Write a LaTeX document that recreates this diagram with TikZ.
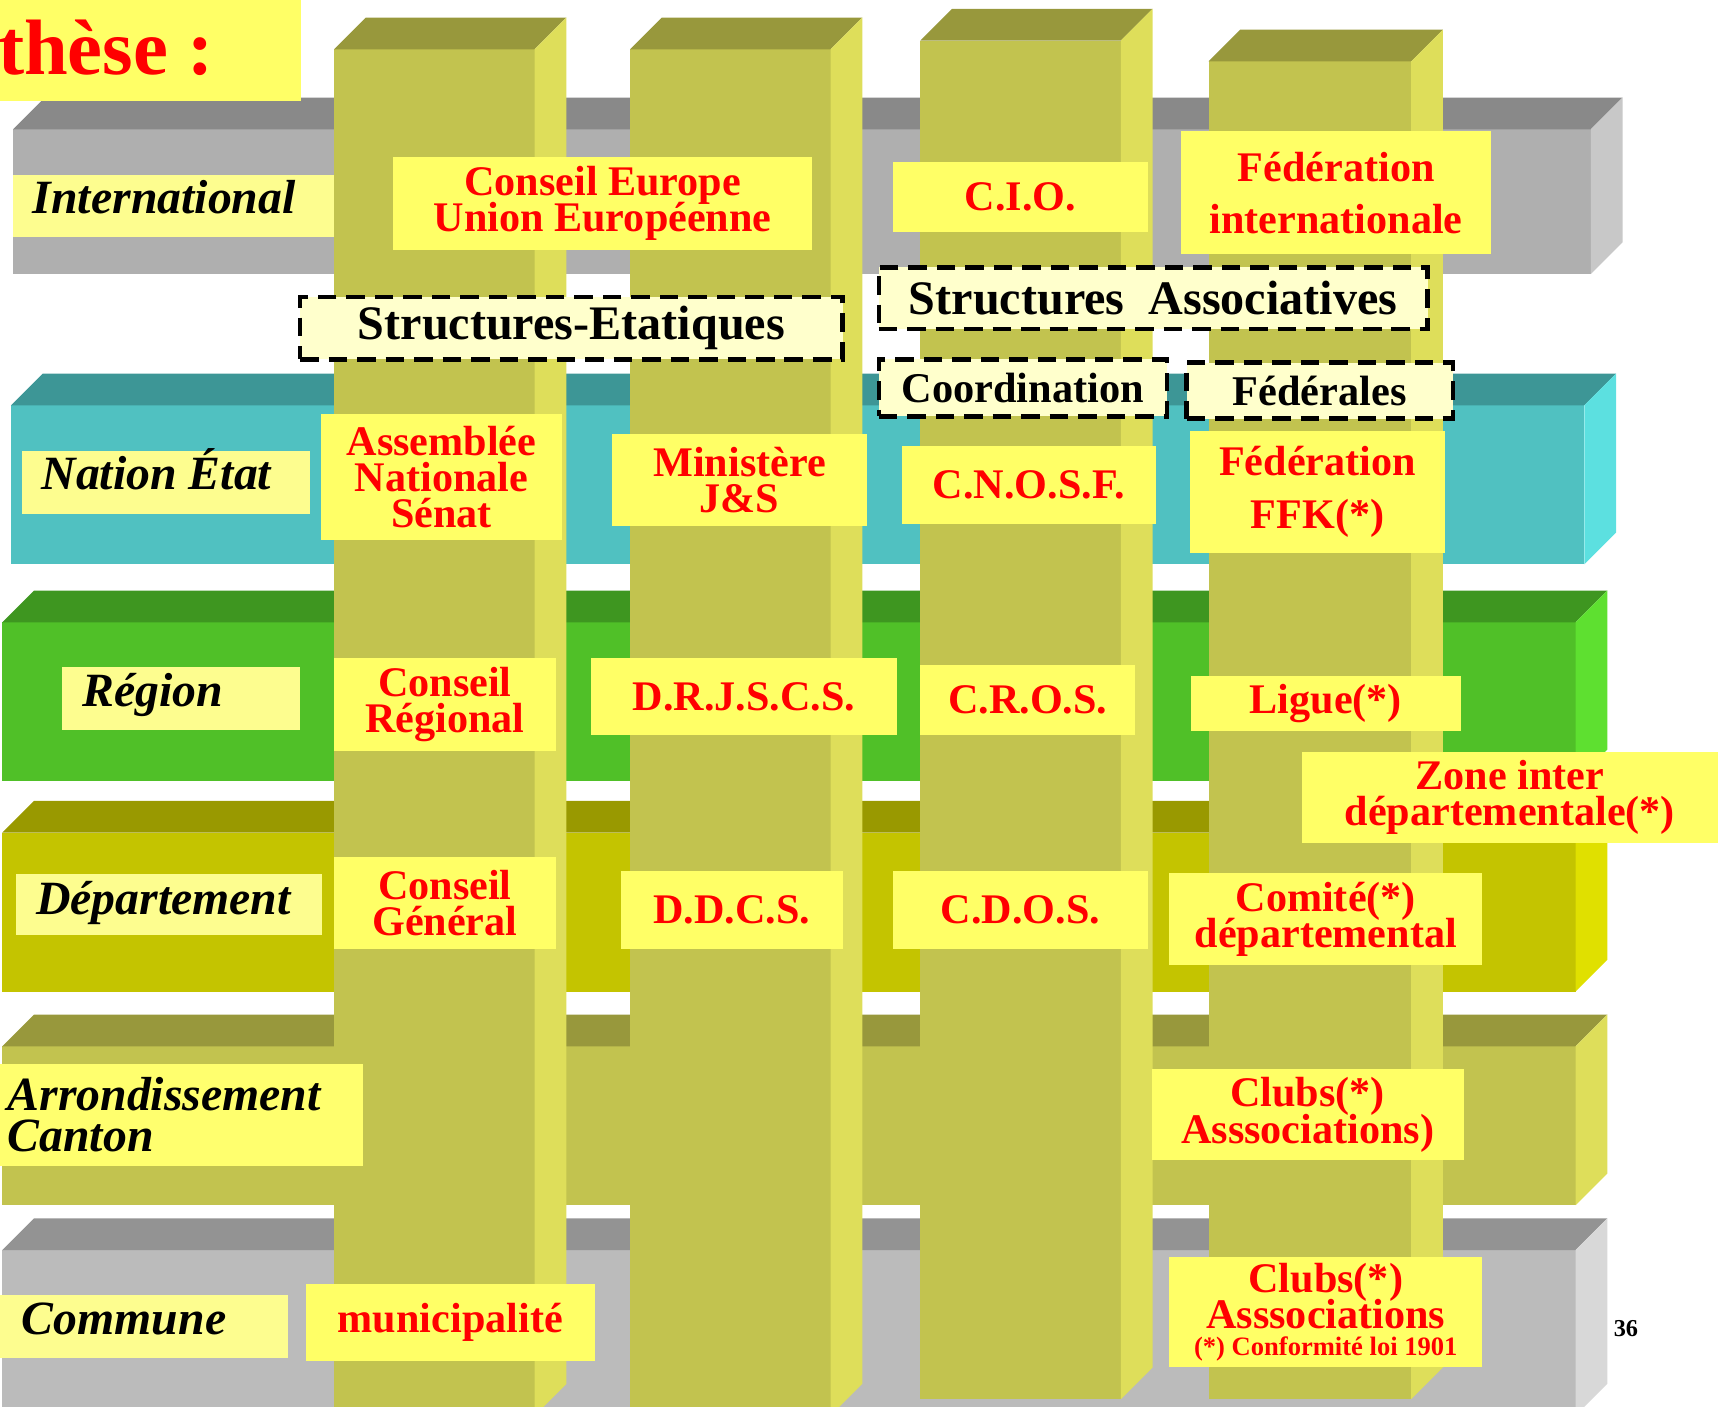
\documentclass[tikz,border=0pt]{standalone}
\usepackage{fontspec}
\setmainfont{Liberation Serif}
\definecolor{colfront}{RGB}{194,195,79}
\definecolor{coltop}{RGB}{152,152,60}
\definecolor{colside}{RGB}{222,222,90}
\definecolor{intlfront}{RGB}{175,175,175}
\definecolor{intltop}{RGB}{137,137,137}
\definecolor{intlside}{RGB}{200,200,200}
\definecolor{natfront}{RGB}{80,193,193}
\definecolor{nattop}{RGB}{61,150,150}
\definecolor{natside}{RGB}{92,224,224}
\definecolor{regfront}{RGB}{80,192,40}
\definecolor{regtop}{RGB}{62,150,32}
\definecolor{regside}{RGB}{94,224,48}
\definecolor{depfront}{RGB}{196,196,0}
\definecolor{deptop}{RGB}{153,153,0}
\definecolor{depside}{RGB}{224,224,0}
\definecolor{comfront}{RGB}{187,187,187}
\definecolor{comtop}{RGB}{147,147,147}
\definecolor{comside}{RGB}{216,216,216}
\definecolor{boxyellow}{RGB}{255,255,102}
\definecolor{lblyellow}{RGB}{253,253,143}
\definecolor{dashfill}{RGB}{255,255,204}
\newcommand{\prism}[7]{%
    \fill[#5] (#1,#2) rectangle (#3,#4);
    \fill[#6] (#1,#2) -- (#1+29,#2-29) -- (#3+29,#2-29) -- (#3,#2) -- cycle;
    \fill[#7] (#3,#2) -- (#3+29,#2-29) -- (#3+29,#4-29) -- (#3,#4) -- cycle;
}
\newcommand{\redfont}{\bfseries\fontsize{10.95}{9.4}\selectfont}
\newcommand{\lblfont}{\bfseries\itshape\fontsize{12.4}{10.5}\selectfont}
\tikzset{
    tight/.style={execute at begin node={\spaceskip=0pt\xspaceskip=0pt\lineskiplimit=-50pt}},
    lbl/.style={tight, fill=lblyellow, font=\lblfont, align=flush left, inner xsep=1.8mm, inner ysep=0pt},
    redbox/.style={tight, fill=boxyellow, text=red, font=\redfont, align=flush center, inner sep=0pt},
    dashbox/.style={fill=dashfill, draw=black, line width=0.4mm, dash pattern=on 1.7mm off 0.9mm,
        inner sep=0pt, font=\bfseries\fontsize{12.5}{12.5}\selectfont},
}
\begin{document}
\begin{tikzpicture}[x=0.1mm, y=-0.1mm]
    \useasboundingbox (0,0) rectangle (1568,1284);
    \clip (0,0) rectangle (1568,1284);
    \prism{12}{118}{1452}{250}{intlfront}{intltop}{intlside}
    \prism{10}{370}{1446}{515}{natfront}{nattop}{natside}
    \prism{2}{568}{1438}{713}{regfront}{regtop}{regside}
    \prism{2}{760}{1438}{905}{depfront}{deptop}{depside}
    \prism{2}{955}{1438}{1100}{colfront}{coltop}{colside}
    \prism{2}{1141}{1438}{1292}{comfront}{comtop}{comside}
    \prism{305}{45}{488}{1292}{colfront}{coltop}{colside}
    \prism{575}{45}{758}{1292}{colfront}{coltop}{colside}
    \prism{840}{37}{1023}{1277}{colfront}{coltop}{colside}
    \prism{1103}{56}{1288}{1277}{colfront}{coltop}{colside}

    \fill[boxyellow] (0,0) rectangle (275,92);
    \node[anchor=base east, text=red, inner sep=0pt, font=\bfseries\fontsize{20.4}{20.4}\selectfont] (title) at (196,68) {Synthèse :};

    \node[lbl, text width=25.7mm, minimum height=5.6mm, text height=3.5mm, text depth=2.1mm] (intl) at (158.5,188) {International};
    \node[lbl, text width=22.7mm, minimum height=5.7mm, text height=3.5mm, text depth=2.2mm] (nation) at (151.5,440.5) {Nation État};
    \node[lbl, text width=18.1mm, minimum height=5.7mm, text height=3.6mm, text depth=2.1mm] (region) at (165.5,637.5) {Région};
    \node[lbl, text width=24.3mm, minimum height=5.5mm, text height=3.7mm, text depth=1.8mm] (dept) at (154.5,825.5) {Département};
    \node[lbl, fill=boxyellow!80!lblyellow, inner xsep=0.7mm, text width=31.7mm, minimum height=9.3mm] (arrond) at (165.5,1017.5) {Arrondissement\\Canton};
    \node[lbl, inner xsep=2mm, text width=22.3mm, minimum height=5.7mm, text height=3.6mm, text depth=2.1mm] (commune) at (131.5,1210.5) {Commune};

    \node[redbox, text width=38.2mm, minimum height=8.5mm] (europe) at (550,185.5) {Conseil Europe\\Union Européenne};
    \node[redbox, text width=23.3mm, minimum height=6.4mm] (cio) at (931.5,180) {C.I.O.};
    \node[redbox, text width=28.3mm, minimum height=11.2mm, font=\bfseries\fontsize{10.95}{13.4}\selectfont] (fedint) at (1219.5,176) {Fédération\\internationale};

    \node[dashbox, minimum width=49.5mm, minimum height=5.7mm] (etat) at (521.5,299.5) {Structures-Etatiques};
    \node[dashbox, minimum width=50.1mm, minimum height=5.6mm] (assoc) at (1052.5,272) {Structures~ Associatives};
    \node[dashbox, minimum width=26.3mm, minimum height=5.2mm, font=\bfseries\fontsize{11}{11}\selectfont] (coord) at (933.5,354) {Coordination};
    \node[dashbox, minimum width=24.3mm, minimum height=5.1mm, font=\bfseries\fontsize{11}{11}\selectfont] (fed) at (1204.5,356.5) {Fédérales};

    \node[redbox, text width=22mm, minimum height=11.5mm] (assemblee) at (403,435.5) {Assemblée\\Nationale\\Sénat};
    \node[redbox, text width=23.2mm, minimum height=8.4mm] (ministere) at (675,438) {Ministère\\J\&S};
    \node[redbox, text width=23.2mm, minimum height=7.1mm] (cnosf) at (939,442.5) {C.N.O.S.F.};
    \node[redbox, text width=23.3mm, minimum height=11.2mm, font=\bfseries\fontsize{10.95}{13.7}\selectfont] (ffk) at (1202.5,449) {Fédération\\FFK(*)};

    \node[redbox, text width=20.2mm, minimum height=8.4mm] (cregion) at (406,643) {Conseil\\Régional};
    \node[redbox, text width=28mm, minimum height=7mm] (drjscs) at (679,636) {D.R.J.S.C.S.};
    \node[redbox, text width=19.6mm, minimum height=6.4mm] (cros) at (938,639) {C.R.O.S.};
    \node[redbox, text width=24.6mm, minimum height=5mm] (ligue) at (1210,642) {Ligue(*)};
    \node[redbox, text width=38mm, minimum height=8.3mm] (zone) at (1378,727.5) {Zone inter\\départementale(*)};

    \node[redbox, text width=20.2mm, minimum height=8.4mm] (cgeneral) at (406,824) {Conseil\\Général};
    \node[redbox, text width=20.2mm, minimum height=7.1mm] (ddcs) at (668,830.5) {D.D.C.S.};
    \node[redbox, text width=23.3mm, minimum height=7.1mm] (cdos) at (931.5,830.5) {C.D.O.S.};
    \node[redbox, text width=28.6mm, minimum height=8.4mm] (comite) at (1210,839) {Comité(*)\\départemental};

    \node[redbox, text width=28.5mm, minimum height=8.3mm] (clubsa) at (1193.5,1017.5) {Clubs(*)\\Asssociations)};
    \node[redbox, text width=26.4mm, minimum height=7mm] (muni) at (411,1207) {municipalité};
    \node[redbox, text width=28.6mm, minimum height=10.1mm] (clubsb) at (1210,1197.5) {Clubs(*)\\Asssociations\\[-2.5pt]{\fontsize{6.9}{6.9}\selectfont (*) Conformité loi 1901}};

    \node[inner sep=0pt, font=\bfseries\fontsize{6.3}{6.3}\selectfont] (page) at (1484,1213) {36};
\end{tikzpicture}
\end{document}
